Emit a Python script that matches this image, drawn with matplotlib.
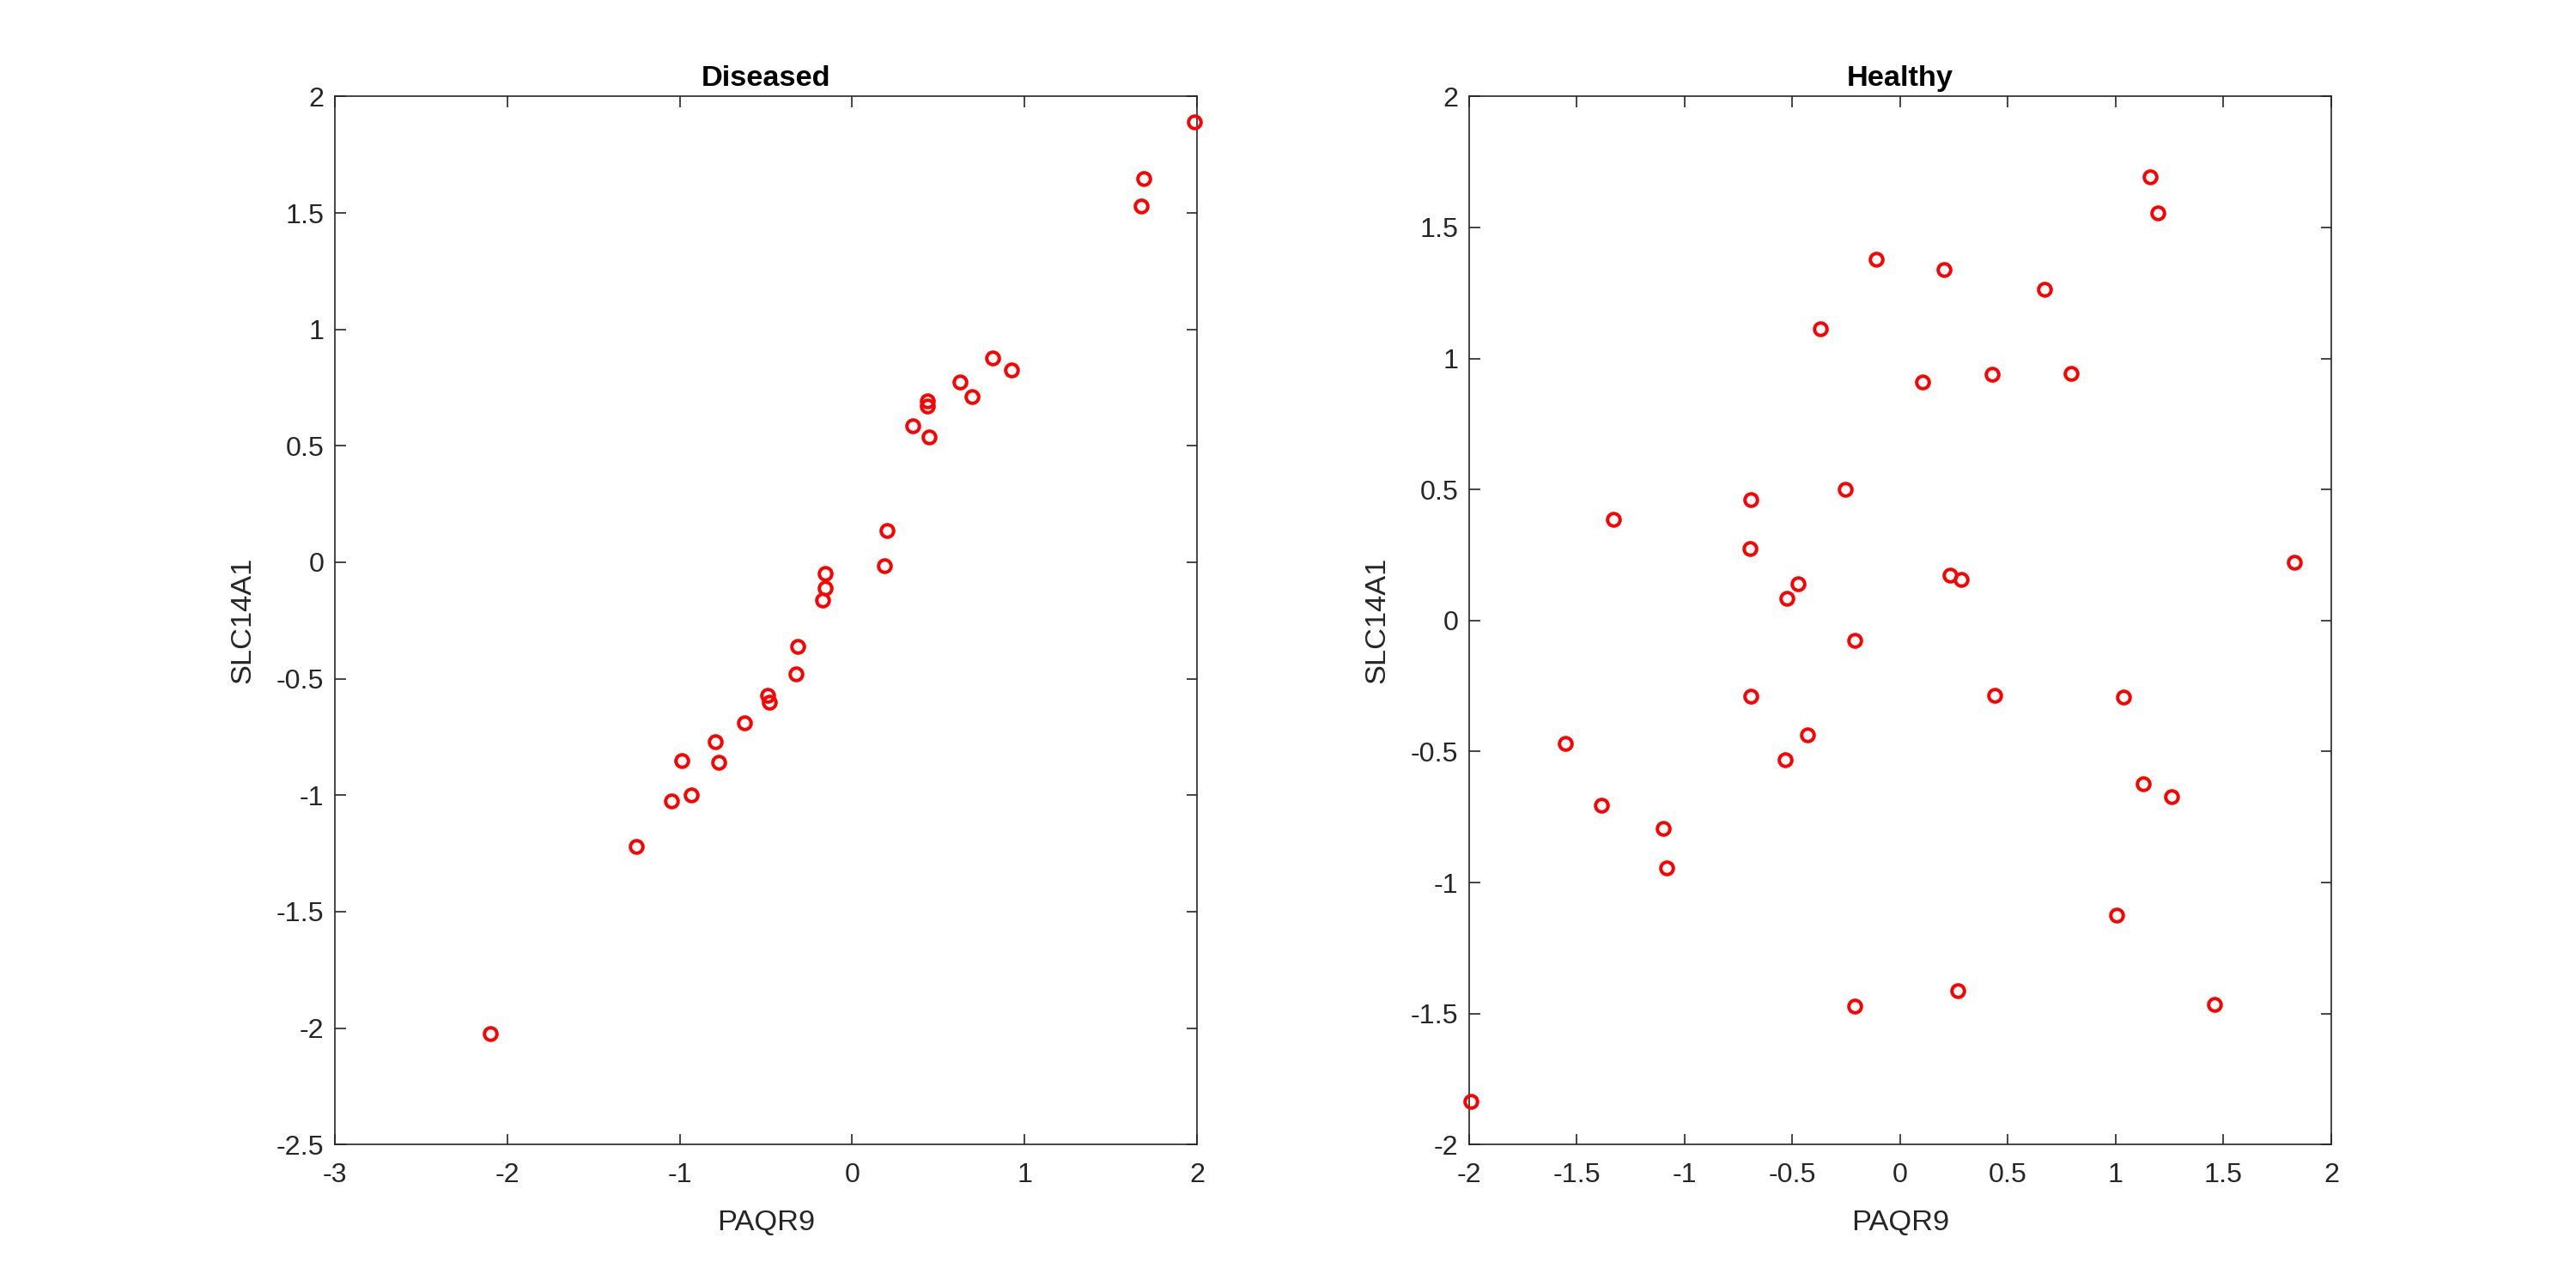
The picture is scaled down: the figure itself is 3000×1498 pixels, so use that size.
import numpy as np
import matplotlib.pyplot as plt

plt.rcParams['font.family'] = ['Liberation Sans', 'DejaVu Sans']

# Diseased group
dis_paqr9 = [1.984, 1.692, 1.675, 0.815, 0.922, 0.627, 0.695, 0.438, 0.435, 0.351,
             0.448, 0.202, 0.189, -0.156, -0.156, -0.172, -0.318, -0.328, -0.490, -0.480,
             -0.626, -0.792, -0.772, -0.987, -0.935, -1.049, -1.250, -2.097]
dis_slc14a1 = [1.889, 1.646, 1.528, 0.877, 0.824, 0.774, 0.712, 0.691, 0.672, 0.586,
               0.539, 0.137, -0.014, -0.047, -0.109, -0.164, -0.363, -0.478, -0.572, -0.600,
               -0.688, -0.769, -0.859, -0.853, -1.000, -1.025, -1.219, -2.024]

# Healthy group
hea_paqr9 = [1.160, 1.194, -0.110, 0.204, 0.670, -0.369, 0.102, 0.427, 0.791, -0.256,
             -0.694, -1.330, -0.696, 1.830, 0.230, 0.285, -0.474, -0.524,
             -0.212, -0.691, 0.440, 1.035, -0.432, -1.555, -0.534, 1.129, 1.259,
             -1.385, -1.100, -1.084, 1.003, 0.267, -0.212, 1.458, -1.993]
hea_slc14a1 = [1.693, 1.554, 1.380, 1.338, 1.263, 1.113, 0.910, 0.941, 0.942, 0.500,
               0.460, 0.387, 0.275, 0.222, 0.174, 0.157, 0.141, 0.086,
               -0.076, -0.289, -0.285, -0.293, -0.437, -0.468, -0.531, -0.624, -0.673,
               -0.704, -0.792, -0.944, -1.123, -1.412, -1.472, -1.466, -1.835]

dis_xticks = [-3, -2, -1, 0, 1, 2]
dis_yticks = [-2.5, -2, -1.5, -1, -0.5, 0, 0.5, 1, 1.5, 2]
hea_xticks = [-2, -1.5, -1, -0.5, 0, 0.5, 1, 1.5, 2]
hea_yticks = [-2, -1.5, -1, -0.5, 0, 0.5, 1, 1.5, 2]

gray = (0.15, 0.15, 0.15)

fig = plt.figure(figsize=(20, 1498 / 150), dpi=150)
ax1 = fig.add_axes([0.13, 0.11, 0.3347, 0.815])
ax2 = fig.add_axes([0.5703, 0.11, 0.3347, 0.815])


def fmt(v):
    return ('%g' % v)


panels = [
    (ax1, dis_paqr9, dis_slc14a1, 'Diseased', dis_xticks, dis_yticks),
    (ax2, hea_paqr9, hea_slc14a1, 'Healthy', hea_xticks, hea_yticks),
]

for ax, xs, ys, title, xt, yt in panels:
    ax.plot(xs, ys, 'o', linestyle='none', markerfacecolor='none',
            markeredgecolor='red', markersize=7, markeredgewidth=1.9,
            clip_on=False, zorder=3)
    ax.set_xlim(xt[0], xt[-1])
    ax.set_ylim(yt[0], yt[-1])
    ax.set_xticks(xt)
    ax.set_yticks(yt)
    ax.set_xticklabels([fmt(v) for v in xt])
    ax.set_yticklabels([fmt(v) for v in yt])
    ax.tick_params(direction='in', length=6, width=0.8, colors=gray,
                   labelsize=15.5, top=True, right=True, labelcolor=gray)
    ax.tick_params(axis='x', pad=10)
    ax.tick_params(axis='y', pad=6)
    for s in ax.spines.values():
        s.set_color(gray)
        s.set_linewidth(0.8)
    ax.set_title(title, fontsize=16.5, fontweight='bold', pad=6)
    ax.set_xlabel('PAQR9', fontsize=16.5, color=gray, labelpad=12)
    ax.set_ylabel('SLC14A1', fontsize=16.5, color=gray, labelpad=11)

fig.savefig('out.png', dpi=150)
